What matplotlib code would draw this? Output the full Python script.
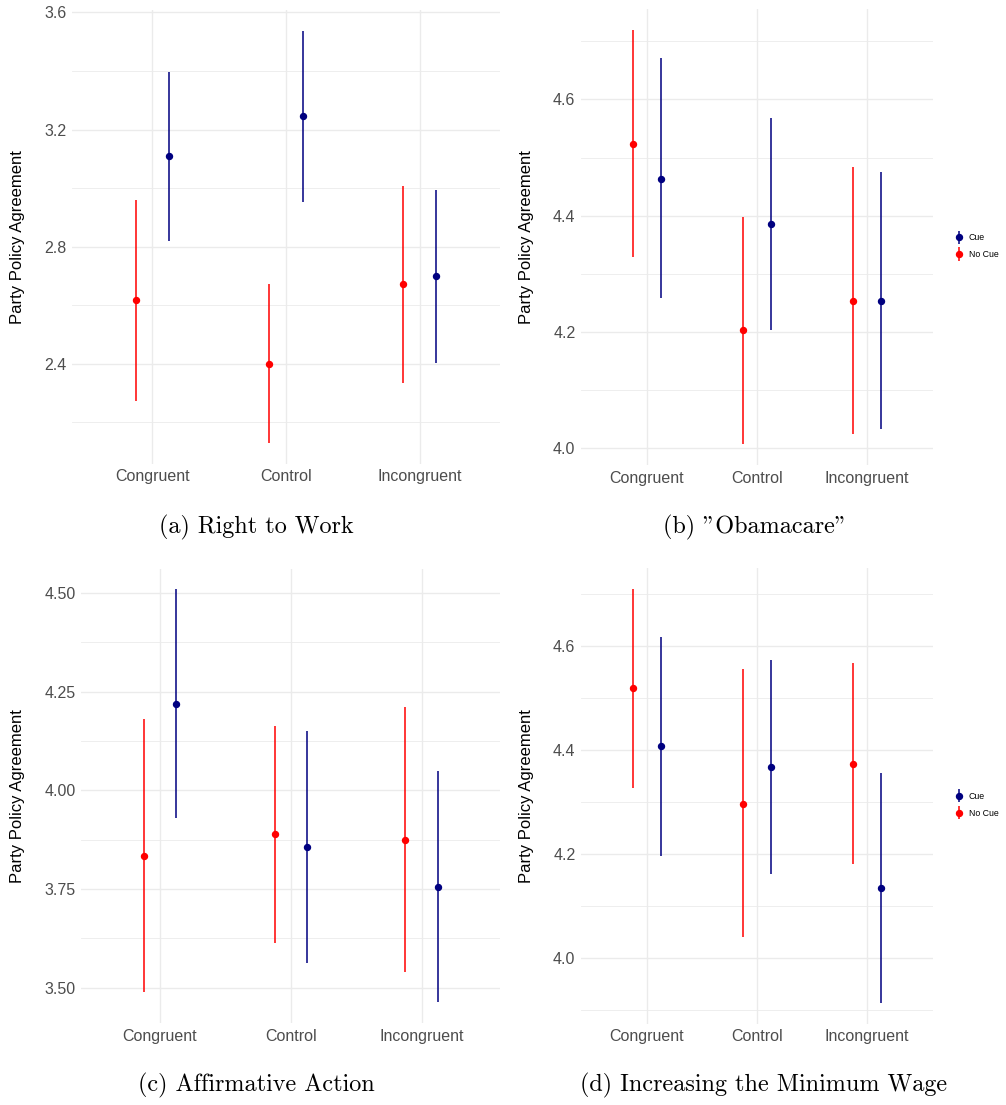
import matplotlib
matplotlib.use('Agg')
import matplotlib.pyplot as plt
from matplotlib.ticker import MultipleLocator, FormatStrFormatter
from matplotlib.container import ErrorbarContainer
from matplotlib.legend_handler import HandlerErrorbar

plt.rcParams['font.family'] = ['Liberation Sans', 'DejaVu Sans']

categories = ['Congruent', 'Control', 'Incongruent']

# (a) Right to Work
rtw_cue = [3.111, 3.248, 2.700]
rtw_cue_lo = [2.821, 2.954, 2.404]
rtw_cue_hi = [3.398, 3.538, 2.994]
rtw_nocue = [2.619, 2.400, 2.672]
rtw_nocue_lo = [2.274, 2.130, 2.336]
rtw_nocue_hi = [2.961, 2.673, 3.009]

# (b) "Obamacare"
aca_cue = [4.464, 4.386, 4.253]
aca_cue_lo = [4.259, 4.203, 4.033]
aca_cue_hi = [4.671, 4.568, 4.476]
aca_nocue = [4.524, 4.203, 4.253]
aca_nocue_lo = [4.329, 4.007, 4.024]
aca_nocue_hi = [4.720, 4.398, 4.484]

# (c) Affirmative Action
aa_cue = [4.219, 3.857, 3.756]
aa_cue_lo = [3.930, 3.563, 3.463]
aa_cue_hi = [4.510, 4.150, 4.049]
aa_nocue = [3.835, 3.889, 3.875]
aa_nocue_lo = [3.488, 3.614, 3.541]
aa_nocue_hi = [4.181, 4.164, 4.211]

# (d) Increasing the Minimum Wage
mw_cue = [4.407, 4.367, 4.135]
mw_cue_lo = [4.197, 4.162, 3.914]
mw_cue_hi = [4.617, 4.573, 4.356]
mw_nocue = [4.519, 4.297, 4.373]
mw_nocue_lo = [4.326, 4.040, 4.180]
mw_nocue_hi = [4.710, 4.555, 4.567]

CUE_COL = '#000080'
NOCUE_COL = '#FF0000'
GRID_COL = '#EBEBEB'
DODGE = 0.125


def pointrange(ax, est, lo, hi, offset, color, label):
    xs = [i + 1 + offset for i in range(len(est))]
    yerr = [[e - l for e, l in zip(est, lo)], [h - e for e, h in zip(est, hi)]]
    return ax.errorbar(xs, est, yerr=yerr, fmt='o', color=color, ecolor=color,
                       ms=4.3, elinewidth=1.1, capsize=0, label=label, zorder=3)


def panel(ax, cue, cue_lo, cue_hi, nocue, nocue_lo, nocue_hi, major, fmt, legend=False):
    h_cue = pointrange(ax, cue, cue_lo, cue_hi, DODGE, CUE_COL, 'Cue')
    h_no = pointrange(ax, nocue, nocue_lo, nocue_hi, -DODGE, NOCUE_COL, 'No Cue')

    # ggplot-style 5% expansion on y, 0.6 on discrete x
    ymin = min(cue_lo + nocue_lo)
    ymax = max(cue_hi + nocue_hi)
    pad = (ymax - ymin) * 0.05
    ax.set_ylim(ymin - pad, ymax + pad)
    ax.set_xlim(0.4, len(categories) + 0.6)

    ax.set_xticks(range(1, len(categories) + 1))
    ax.set_xticklabels(categories)
    ax.yaxis.set_major_locator(MultipleLocator(major))
    ax.yaxis.set_minor_locator(MultipleLocator(major / 2))
    ax.yaxis.set_major_formatter(FormatStrFormatter(fmt))

    for s in ax.spines.values():
        s.set_visible(False)
    ax.tick_params(which='both', length=0, labelsize=11.5, labelcolor='#4D4D4D', pad=4)
    ax.grid(True, which='major', color=GRID_COL, lw=1.0)
    ax.grid(True, which='minor', axis='y', color=GRID_COL, lw=0.6)
    ax.set_axisbelow(True)

    ax.set_ylabel('Party Policy Agreement', fontsize=12, color='black')

    if legend:
        ax.legend([h_cue, h_no], ['Cue', 'No Cue'], loc='center left',
                  bbox_to_anchor=(1.055, 0.48), frameon=False, fontsize=6.3,
                  handlelength=0.8, handletextpad=0.7, labelspacing=0.9,
                  borderaxespad=0,
                  handler_map={ErrorbarContainer: HandlerErrorbar(yerr_size=0.75)})


fig = plt.figure(figsize=(10.06, 11.05), dpi=100)
W, H = 1006, 1105


def add_axes(left, top, right, bottom):
    return fig.add_axes([left / W, 1 - bottom / H, (right - left) / W, (bottom - top) / H])


ax_a = add_axes(72, 10, 500, 463.5)
ax_b = add_axes(581, 9, 933, 465)
ax_c = add_axes(81.4, 568.5, 500.4, 1023)
ax_d = add_axes(581, 568, 933, 1023.5)

panel(ax_a, rtw_cue, rtw_cue_lo, rtw_cue_hi, rtw_nocue, rtw_nocue_lo, rtw_nocue_hi, 0.4, '%.1f')
panel(ax_b, aca_cue, aca_cue_lo, aca_cue_hi, aca_nocue, aca_nocue_lo, aca_nocue_hi, 0.2, '%.1f', legend=True)
panel(ax_c, aa_cue, aa_cue_lo, aa_cue_hi, aa_nocue, aa_nocue_lo, aa_nocue_hi, 0.25, '%.2f')
panel(ax_d, mw_cue, mw_cue_lo, mw_cue_hi, mw_nocue, mw_nocue_lo, mw_nocue_hi, 0.2, '%.1f', legend=True)

for ax, x in [(ax_a, 25), (ax_b, 534), (ax_c, 25), (ax_d, 534)]:
    pos = ax.get_position()
    ax.yaxis.set_label_coords((x / W - pos.x0) / pos.width, 0.5)

captions = ['(a) Right to Work', '(b) "Obamacare"', '(c) Affirmative Action',
            '(d) Increasing the Minimum Wage']
cap_pos = [(256.5, 527), (755, 527), (256, 1085), (764, 1085)]
for text, (cx, cy) in zip(captions, cap_pos):
    fig.text(cx / W, 1 - cy / H, text, ha='center', va='center', fontsize=17.4,
             family=['cmr10', 'DejaVu Serif'])

fig.savefig('out.png', dpi=100, facecolor='white')
